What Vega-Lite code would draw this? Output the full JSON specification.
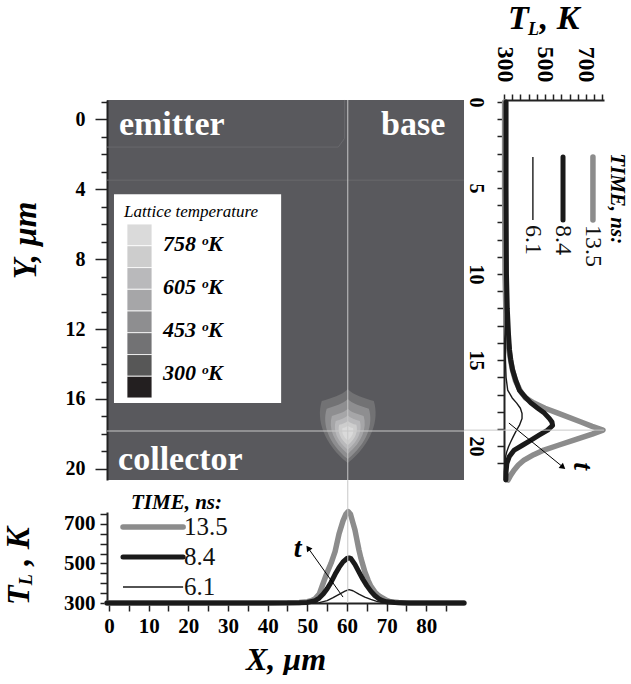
{
 "$schema": "https://vega.github.io/schema/vega-lite/v6.json",
 "background": "white",
 "padding": {"left": 2, "top": 2, "right": 4, "bottom": 0},
 "bounds": "flush",
 "columns": 2,
 "spacing": {"row": 32, "column": 40},
 "resolve": {"scale": {"color": "independent", "size": "independent"}},
 "config": {
  "view": {"stroke": null},
  "font": "Liberation Serif",
  "axis": {"grid": false, "labelFont": "Liberation Serif", "titleFont": "Liberation Serif", "labelColor": "#000", "titleColor": "#000", "tickColor": "#222", "domainColor": "#222", "labelFlush": false, "labelOverlap": false}
 },
 "datasets": {
  "xprof": [
   {"time":"13.5","X":-0.5,"T":300},{"time":"13.5","X":10,"T":300},{"time":"13.5","X":20,"T":300},{"time":"13.5","X":30,"T":300},{"time":"13.5","X":40,"T":300},{"time":"13.5","X":45,"T":301},{"time":"13.5","X":48,"T":303},{"time":"13.5","X":50,"T":307},{"time":"13.5","X":51,"T":312},{"time":"13.5","X":52,"T":322},{"time":"13.5","X":53,"T":345},{"time":"13.5","X":54,"T":400},{"time":"13.5","X":55,"T":455},{"time":"13.5","X":56,"T":502},{"time":"13.5","X":57,"T":560},{"time":"13.5","X":58,"T":650},{"time":"13.5","X":59,"T":715},{"time":"13.5","X":59.7,"T":748},{"time":"13.5","X":60.3,"T":762},{"time":"13.5","X":60.9,"T":748},{"time":"13.5","X":61.5,"T":705},{"time":"13.5","X":62,"T":670},{"time":"13.5","X":62.5,"T":620},{"time":"13.5","X":63,"T":570},{"time":"13.5","X":63.5,"T":527},{"time":"13.5","X":64.5,"T":458},{"time":"13.5","X":65.3,"T":416},{"time":"13.5","X":66,"T":385},{"time":"13.5","X":67,"T":356},{"time":"13.5","X":68,"T":337},{"time":"13.5","X":68.6,"T":330},{"time":"13.5","X":70,"T":313},{"time":"13.5","X":71,"T":306},{"time":"13.5","X":73,"T":302},{"time":"13.5","X":76,"T":300},{"time":"13.5","X":80,"T":300},{"time":"13.5","X":89.5,"T":300},
   {"time":"8.4","X":-0.5,"T":300},{"time":"8.4","X":40,"T":300},{"time":"8.4","X":48,"T":301},{"time":"8.4","X":50,"T":303},{"time":"8.4","X":52,"T":312},{"time":"8.4","X":53,"T":325},{"time":"8.4","X":54,"T":345},{"time":"8.4","X":55,"T":372},{"time":"8.4","X":56,"T":405},{"time":"8.4","X":57,"T":445},{"time":"8.4","X":58,"T":480},{"time":"8.4","X":59,"T":508},{"time":"8.4","X":60,"T":525},{"time":"8.4","X":60.5,"T":528},{"time":"8.4","X":61,"T":524},{"time":"8.4","X":62,"T":495},{"time":"8.4","X":63,"T":457},{"time":"8.4","X":64,"T":420},{"time":"8.4","X":65,"T":388},{"time":"8.4","X":66,"T":360},{"time":"8.4","X":67,"T":338},{"time":"8.4","X":68,"T":322},{"time":"8.4","X":69,"T":312},{"time":"8.4","X":70,"T":306},{"time":"8.4","X":72,"T":302},{"time":"8.4","X":75,"T":300},{"time":"8.4","X":89.5,"T":300},
   {"time":"6.1","X":-0.5,"T":300},{"time":"6.1","X":50,"T":300},{"time":"6.1","X":53,"T":302},{"time":"6.1","X":55,"T":312},{"time":"6.1","X":56.5,"T":327},{"time":"6.1","X":58,"T":344},{"time":"6.1","X":59.5,"T":360},{"time":"6.1","X":60.5,"T":368},{"time":"6.1","X":61.5,"T":362},{"time":"6.1","X":63,"T":345},{"time":"6.1","X":64.5,"T":330},{"time":"6.1","X":66,"T":318},{"time":"6.1","X":67.5,"T":308},{"time":"6.1","X":69,"T":302},{"time":"6.1","X":72,"T":300},{"time":"6.1","X":89.5,"T":300}
  ],
  "yprof": [
   {"time":"13.5","Y":0,"T":303},{"time":"13.5","Y":5,"T":303},{"time":"13.5","Y":10,"T":305},{"time":"13.5","Y":12,"T":309},{"time":"13.5","Y":13.5,"T":316},{"time":"13.5","Y":14.5,"T":325},{"time":"13.5","Y":15.5,"T":340},{"time":"13.5","Y":16.2,"T":356},{"time":"13.5","Y":16.8,"T":380},{"time":"13.5","Y":17.2,"T":405},{"time":"13.5","Y":17.5,"T":446},{"time":"13.5","Y":17.8,"T":500},{"time":"13.5","Y":18.08,"T":563},{"time":"13.5","Y":18.6,"T":676},{"time":"13.5","Y":18.85,"T":730},{"time":"13.5","Y":19.07,"T":783},{"time":"13.5","Y":19.3,"T":730},{"time":"13.5","Y":19.65,"T":641},{"time":"13.5","Y":19.95,"T":565},{"time":"13.5","Y":20.23,"T":495},{"time":"13.5","Y":20.5,"T":445},{"time":"13.5","Y":20.81,"T":398},{"time":"13.5","Y":21.1,"T":370},{"time":"13.5","Y":21.4,"T":349},{"time":"13.5","Y":21.7,"T":332},{"time":"13.5","Y":21.97,"T":320},
   {"time":"8.4","Y":0,"T":310},{"time":"8.4","Y":5,"T":310},{"time":"8.4","Y":10,"T":312},{"time":"8.4","Y":12,"T":316},{"time":"8.4","Y":13.5,"T":322},{"time":"8.4","Y":14.4,"T":327},{"time":"8.4","Y":15,"T":333},{"time":"8.4","Y":15.58,"T":342},{"time":"8.4","Y":16.2,"T":358},{"time":"8.4","Y":16.74,"T":375},{"time":"8.4","Y":17.1,"T":400},{"time":"8.4","Y":17.5,"T":432},{"time":"8.4","Y":17.8,"T":465},{"time":"8.4","Y":18.08,"T":497},{"time":"8.4","Y":18.4,"T":522},{"time":"8.4","Y":18.6,"T":534},{"time":"8.4","Y":18.8,"T":537},{"time":"8.4","Y":19.07,"T":513},{"time":"8.4","Y":19.35,"T":473},{"time":"8.4","Y":19.65,"T":432},{"time":"8.4","Y":19.95,"T":390},{"time":"8.4","Y":20.23,"T":350},{"time":"8.4","Y":20.6,"T":326},{"time":"8.4","Y":21,"T":314},{"time":"8.4","Y":21.5,"T":310},{"time":"8.4","Y":21.97,"T":309},
   {"time":"6.1","Y":0,"T":306},{"time":"6.1","Y":10,"T":306},{"time":"6.1","Y":15,"T":307},{"time":"6.1","Y":16,"T":310},{"time":"6.1","Y":16.74,"T":318},{"time":"6.1","Y":17.2,"T":340},{"time":"6.1","Y":17.5,"T":362},{"time":"6.1","Y":17.8,"T":380},{"time":"6.1","Y":18.1,"T":388},{"time":"6.1","Y":18.4,"T":388},{"time":"6.1","Y":18.8,"T":375},{"time":"6.1","Y":19.1,"T":360},{"time":"6.1","Y":19.45,"T":345},{"time":"6.1","Y":19.75,"T":333},{"time":"6.1","Y":20.04,"T":322},{"time":"6.1","Y":20.35,"T":313},{"time":"6.1","Y":20.6,"T":308},{"time":"6.1","Y":21,"T":306},{"time":"6.1","Y":21.97,"T":305}
  ]
 },
 "concat": [
  {
   "width": 357, "height": 380,
   "view": {"fill": "#59595d", "stroke": null},
   "encoding": {
    "x": {"field": "X", "type": "quantitative", "scale": {"domain": [-0.5, 89.5], "nice": false, "zero": false}, "axis": null},
    "y": {"field": "Y", "type": "quantitative", "scale": {"domain": [-1.09, 20.63], "nice": false, "zero": false, "reverse": true},
     "axis": {"title": "Y, μm", "values": [-1,0,1,2,3,4,5,6,7,8,9,10,11,12,13,14,15,16,17,18,19,20],
      "labelExpr": "datum.value % 4 === 0 ? datum.label : ''",
      "labelFontSize": 20, "labelFontWeight": "bold", "labelPadding": 10,
      "tickSize": {"condition": {"test": "datum.value % 4 === 0", "value": 12}, "value": 6},
      "tickWidth": 1.5, "domainWidth": 2,
      "titleFontSize": 33, "titleFontStyle": "italic", "titleFontWeight": "bold",
      "titleAngle": -90, "titleAlign": "center", "titleBaseline": "alphabetic", "titleX": -72, "titleY": 140}}
   },
   "layer": [
    {"data": {"values": [{"X":-0.5,"X2":57.8,"Y":1.6,"Y2":1.6},{"X":57.8,"X2":59.4,"Y":1.6,"Y2":1.1},{"X":59.4,"X2":59.4,"Y":1.1,"Y2":-1.09},{"X":-0.5,"X2":89.5,"Y":3.49,"Y2":3.49}]},
     "mark": {"type": "rule", "color": "#69696d", "strokeWidth": 1},
     "encoding": {"x2": {"field": "X2"}, "y2": {"field": "Y2"}}},
    {"data": {"values": [{"X":60.2,"Y":17.55,"T":415},{"X":60.2,"Y":17.72,"T":491},{"X":60.2,"Y":17.85,"T":567},{"X":60.2,"Y":17.92,"T":643},{"X":60.2,"Y":17.95,"T":720},{"X":60.2,"Y":17.95,"T":796}]},
     "mark": {"type": "point", "filled": true, "opacity": 1, "strokeWidth": 0,
      "shape": "M0,-1.25C0.2,-1.05 0.55,-0.95 0.88,-0.85C1.08,-0.2 0.8,0.6 0,1.25C-0.8,0.6 -1.08,-0.2 -0.88,-0.85C-0.55,-0.95 -0.2,-1.05 0,-1.25Z"},
     "encoding": {
      "color": {"field": "T", "type": "quantitative", "scale": {"type": "threshold", "domain": [300,376,453,528,605,681,758], "range": ["#231f20","#575757","#727274","#8e8e90","#a6a6a8","#b9b9bb","#cdcdcd","#dadada"]}, "legend": null},
      "size": {"field": "T", "type": "quantitative", "scale": {"domain": [415,491,567,643,720,796], "range": [3500,2300,1300,750,380,140]}, "legend": null}}},
    {"data": {"values": [{"X":60.2,"X2":60.2,"Y":-1.09,"Y2":20.63},{"X":-0.5,"X2":89.5,"Y":17.83,"Y2":17.83}]},
     "mark": {"type": "rule", "color": "#c8c8c8", "strokeWidth": 1},
     "encoding": {"x2": {"field": "X2"}, "y2": {"field": "Y2"}}},
    {"data": {"values": [{"X":2.5,"Y":0.91,"label":"emitter"},{"X":68.6,"Y":0.91,"label":"base"},{"X":2.3,"Y":20.06,"label":"collector"}]},
     "mark": {"type": "text", "align": "left", "baseline": "alphabetic", "font": "Liberation Serif", "fontSize": 34, "fontWeight": "bold", "color": "#ffffff"},
     "encoding": {"text": {"field": "label"}}},
    {"data": {"values": [{"X":1.26,"X2":43.4,"Y":4.29,"Y2":16.23}]},
     "mark": {"type": "rect", "color": "#ffffff"},
     "encoding": {"x2": {"field": "X2"}, "y2": {"field": "Y2"}}},
    {"data": {"values": [{"X":4.54,"X2":10.84,"Y":6.0,"Y2":7.24,"T":796},{"X":4.54,"X2":10.84,"Y":7.24,"Y2":8.49,"T":720},{"X":4.54,"X2":10.84,"Y":8.49,"Y2":9.73,"T":643},{"X":4.54,"X2":10.84,"Y":9.73,"Y2":10.97,"T":567},{"X":4.54,"X2":10.84,"Y":10.97,"Y2":12.21,"T":491},{"X":4.54,"X2":10.84,"Y":12.21,"Y2":13.46,"T":415},{"X":4.54,"X2":10.84,"Y":13.46,"Y2":14.7,"T":338},{"X":4.54,"X2":10.84,"Y":14.7,"Y2":15.94,"T":262}]},
     "mark": {"type": "rect", "stroke": "#ffffff", "strokeWidth": 0.8},
     "encoding": {"x2": {"field": "X2"}, "y2": {"field": "Y2"},
      "color": {"field": "T", "type": "quantitative", "scale": {"type": "threshold", "domain": [300,376,453,528,605,681,758], "range": ["#231f20","#575757","#727274","#8e8e90","#a6a6a8","#b9b9bb","#cdcdcd","#dadada"]}, "legend": null}}},
    {"data": {"values": [{"X":3.8,"Y":5.58,"label":"Lattice temperature"}]},
     "mark": {"type": "text", "align": "left", "baseline": "alphabetic", "font": "Liberation Serif", "fontSize": 17, "fontStyle": "italic", "color": "#000"},
     "encoding": {"text": {"field": "label"}}},
    {"data": {"values": [{"X":13.6,"Y":7.16,"label":"758 ᵒK"},{"X":13.6,"Y":9.58,"label":"605 ᵒK"},{"X":13.6,"Y":12.06,"label":"453 ᵒK"},{"X":13.6,"Y":14.53,"label":"300 ᵒK"}]},
     "mark": {"type": "text", "align": "left", "baseline": "middle", "font": "Liberation Serif", "fontSize": 22, "fontStyle": "italic", "fontWeight": "bold", "color": "#000"},
     "encoding": {"text": {"field": "label"}}}
   ]
  },
  {
   "width": 100, "height": 380,
   "encoding": {
    "x": {"field": "T", "type": "quantitative", "scale": {"domain": [300, 788], "nice": false, "zero": false},
     "axis": {"orient": "top", "title": null, "values": [300,340,380,420,460,500,540,580,620,660,700,740,780],
      "labelExpr": "datum.value % 200 === 100 ? datum.label : ''",
      "labelAngle": 90, "labelAlign": "right", "labelBaseline": "middle", "labelFontSize": 24, "labelFontWeight": "bold", "labelPadding": 12,
      "tickSize": 6, "tickWidth": 1.5, "domainWidth": 2}},
    "y": {"field": "Y", "type": "quantitative", "scale": {"domain": [-0.12, 21.97], "nice": false, "zero": false, "reverse": true},
     "axis": {"orient": "left", "title": null, "values": [0,1,2,3,4,5,6,7,8,9,10,11,12,13,14,15,16,17,18,19,20,21],
      "labelExpr": "datum.value % 5 === 0 ? datum.label : ''",
      "labelAngle": 90, "labelAlign": "center", "labelBaseline": "top", "labelFontSize": 20, "labelFontWeight": "bold", "labelPadding": 12,
      "tickSize": 7, "tickWidth": 1.5, "domainWidth": 2}}
   },
   "layer": [
    {"data": {"name": "yprof"}, "transform": [{"filter": "datum.time === '13.5'"}],
     "mark": {"type": "line", "color": "#8c8c8c", "strokeWidth": 5.5, "strokeCap": "round", "strokeJoin": "round"},
     "encoding": {"order": {"field": "Y", "type": "quantitative"}}},
    {"data": {"name": "yprof"}, "transform": [{"filter": "datum.time === '8.4'"}],
     "mark": {"type": "line", "color": "#1a1a1a", "strokeWidth": 5, "strokeCap": "round", "strokeJoin": "round"},
     "encoding": {"order": {"field": "Y", "type": "quantitative"}}},
    {"data": {"name": "yprof"}, "transform": [{"filter": "datum.time === '6.1'"}],
     "mark": {"type": "line", "color": "#1a1a1a", "strokeWidth": 1.4, "strokeCap": "round", "strokeJoin": "round"},
     "encoding": {"order": {"field": "Y", "type": "quantitative"}}},
    {"data": {"values": [{"T":734,"Y":3.2,"Y2":6.86}]},
     "mark": {"type": "rule", "color": "#8c8c8c", "strokeWidth": 5.5, "strokeCap": "round"},
     "encoding": {"y2": {"field": "Y2"}}},
    {"data": {"values": [{"T":588,"Y":3.2,"Y2":6.86}]},
     "mark": {"type": "rule", "color": "#1a1a1a", "strokeWidth": 5, "strokeCap": "round"},
     "encoding": {"y2": {"field": "Y2"}}},
    {"data": {"values": [{"T":441,"Y":3.2,"Y2":6.86}]},
     "mark": {"type": "rule", "color": "#1a1a1a", "strokeWidth": 1.4},
     "encoding": {"y2": {"field": "Y2"}}},
    {"data": {"values": [{"T":734,"Y":7.15,"label":"13.5"},{"T":588,"Y":7.15,"label":"8.4"},{"T":441,"Y":7.15,"label":"6.1"}]},
     "mark": {"type": "text", "angle": 90, "align": "left", "baseline": "middle", "font": "Liberation Serif", "fontSize": 24, "color": "#111"},
     "encoding": {"text": {"field": "label"}}},
    {"data": {"values": [{"T":850,"Y":2.97,"label":"TIME, ns:"}]},
     "mark": {"type": "text", "angle": 90, "align": "left", "baseline": "middle", "font": "Liberation Serif", "fontSize": 21, "fontStyle": "italic", "fontWeight": "bold", "color": "#000"},
     "encoding": {"text": {"field": "label"}}},
    {"data": {"values": [{"T":105,"T2":788,"Y":19.07}]},
     "mark": {"type": "rule", "color": "#c8c8c8", "strokeWidth": 1},
     "encoding": {"x2": {"field": "T2"}}},
    {"data": {"values": [{"T":324,"Y":18.66,"T2":588,"Y2":21.22}]},
     "mark": {"type": "rule", "color": "#000", "strokeWidth": 1},
     "encoding": {"x2": {"field": "T2"}, "y2": {"field": "Y2"}}},
    {"data": {"values": [{"T":588,"Y":21.22}]},
     "mark": {"type": "point", "shape": "triangle-up", "angle": 129, "size": 45, "filled": true, "color": "#000", "opacity": 1}},
    {"data": {"values": [{"T":680,"Y":21.16,"label":"t"}]},
     "mark": {"type": "text", "angle": 90, "align": "center", "baseline": "middle", "font": "Liberation Serif", "fontSize": 28, "fontStyle": "italic", "fontWeight": "bold", "color": "#000"},
     "encoding": {"text": {"field": "label"}}},
    {"data": {"values": [{"T":319.5,"Y":-4.24,"label":"T"},{"T":475,"Y":-4.24,"label":", K"}]},
     "mark": {"type": "text", "align": "left", "baseline": "alphabetic", "font": "Liberation Serif", "fontSize": 34, "fontStyle": "italic", "fontWeight": "bold", "color": "#000"},
     "encoding": {"text": {"field": "label"}}},
    {"data": {"values": [{"T":417,"Y":-3.88,"label":"L"}]},
     "mark": {"type": "text", "align": "left", "baseline": "alphabetic", "font": "Liberation Serif", "fontSize": 18, "fontStyle": "italic", "fontWeight": "bold", "color": "#000"},
     "encoding": {"text": {"field": "label"}}}
   ]
  },
  {
   "width": 357, "height": 91,
   "encoding": {
    "x": {"field": "X", "type": "quantitative", "scale": {"domain": [-0.5, 89.5], "nice": false, "zero": false},
     "axis": {"orient": "bottom", "title": "X, μm", "values": [0,5,10,15,20,25,30,35,40,45,50,55,60,65,70,75,80,85],
      "labelExpr": "datum.value % 10 === 0 ? datum.label : ''",
      "labelFontSize": 21, "labelFontWeight": "bold", "labelPadding": 4,
      "tickSize": 8, "tickWidth": 1.5, "domainWidth": 2,
      "titleFontSize": 32, "titleFontStyle": "italic", "titleFontWeight": "bold", "titlePadding": 8}},
    "y": {"field": "T", "type": "quantitative", "scale": {"domain": [300, 760], "nice": false, "zero": false},
     "axis": {"orient": "left", "title": null, "values": [300,350,400,450,500,550,600,650,700,750],
      "labelExpr": "datum.value % 200 === 100 ? datum.label : ''",
      "labelFontSize": 21, "labelFontWeight": "bold", "labelPadding": 5,
      "tickSize": 7, "tickWidth": 1.5, "domainWidth": 2}}
   },
   "layer": [
    {"data": {"name": "xprof"}, "transform": [{"filter": "datum.time === '13.5'"}],
     "mark": {"type": "line", "color": "#8c8c8c", "strokeWidth": 5.5, "strokeCap": "round", "strokeJoin": "round"}},
    {"data": {"name": "xprof"}, "transform": [{"filter": "datum.time === '8.4'"}],
     "mark": {"type": "line", "color": "#1a1a1a", "strokeWidth": 5, "strokeCap": "round", "strokeJoin": "round"}},
    {"data": {"name": "xprof"}, "transform": [{"filter": "datum.time === '6.1'"}],
     "mark": {"type": "line", "color": "#1a1a1a", "strokeWidth": 1.4, "strokeCap": "round", "strokeJoin": "round"}},
    {"data": {"values": [{"X":3.53,"X2":18.7,"T":684}]},
     "mark": {"type": "rule", "color": "#8c8c8c", "strokeWidth": 5.5, "strokeCap": "round"},
     "encoding": {"x2": {"field": "X2"}}},
    {"data": {"values": [{"X":3.53,"X2":18.7,"T":532}]},
     "mark": {"type": "rule", "color": "#1a1a1a", "strokeWidth": 5, "strokeCap": "round"},
     "encoding": {"x2": {"field": "X2"}}},
    {"data": {"values": [{"X":3.53,"X2":18.7,"T":381}]},
     "mark": {"type": "rule", "color": "#1a1a1a", "strokeWidth": 1.4},
     "encoding": {"x2": {"field": "X2"}}},
    {"data": {"values": [{"X":18.9,"T":684,"label":"13.5"},{"X":18.9,"T":532,"label":"8.4"},{"X":18.9,"T":381,"label":"6.1"}]},
     "mark": {"type": "text", "align": "left", "baseline": "middle", "font": "Liberation Serif", "fontSize": 25, "color": "#111"},
     "encoding": {"text": {"field": "label"}}},
    {"data": {"values": [{"X":5.55,"T":775,"label":"TIME, ns:"}]},
     "mark": {"type": "text", "align": "left", "baseline": "alphabetic", "font": "Liberation Serif", "fontSize": 21, "fontStyle": "italic", "fontWeight": "bold", "color": "#000"},
     "encoding": {"text": {"field": "label"}}},
    {"data": {"values": [{"X":60.2,"T":300,"T2":921}]},
     "mark": {"type": "rule", "color": "#c8c8c8", "strokeWidth": 1},
     "encoding": {"y2": {"field": "T2"}}},
    {"data": {"values": [{"X":59,"T":330,"X2":50.2,"T2":578}]},
     "mark": {"type": "rule", "color": "#000", "strokeWidth": 1},
     "encoding": {"x2": {"field": "X2"}, "y2": {"field": "T2"}}},
    {"data": {"values": [{"X":50.2,"T":578}]},
     "mark": {"type": "point", "shape": "triangle-up", "angle": 324.5, "size": 45, "filled": true, "color": "#000", "opacity": 1}},
    {"data": {"values": [{"X":46.6,"T":532,"label":"t"}]},
     "mark": {"type": "text", "align": "left", "baseline": "alphabetic", "font": "Liberation Serif", "fontSize": 28, "fontStyle": "italic", "fontWeight": "bold", "color": "#000"},
     "encoding": {"text": {"field": "label"}}},
    {"data": {"values": [{"X":-20.2,"T":290,"label":"T"}]},
     "mark": {"type": "text", "angle": 270, "align": "left", "baseline": "alphabetic", "font": "Liberation Serif", "fontSize": 32, "fontStyle": "italic", "fontWeight": "bold", "color": "#000"},
     "encoding": {"text": {"field": "label"}}},
    {"data": {"values": [{"X":-20.2,"T":488,"label":", K"}]},
     "mark": {"type": "text", "angle": 270, "align": "left", "baseline": "alphabetic", "font": "Liberation Serif", "fontSize": 33, "fontStyle": "italic", "fontWeight": "bold", "color": "#000"},
     "encoding": {"text": {"field": "label"}}},
    {"data": {"values": [{"X":-19.4,"T":390,"label":"L"}]},
     "mark": {"type": "text", "angle": 270, "align": "left", "baseline": "alphabetic", "font": "Liberation Serif", "fontSize": 18, "fontStyle": "italic", "fontWeight": "bold", "color": "#000"},
     "encoding": {"text": {"field": "label"}}}
   ]
  }
 ]
}
